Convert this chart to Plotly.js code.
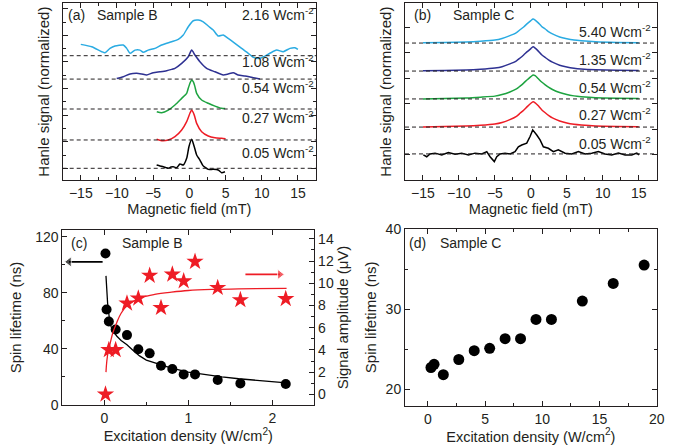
<!DOCTYPE html>
<html><head><meta charset="utf-8">
<script src="https://cdn.plot.ly/plotly-3.0.1.min.js"></script>
<style>html,body{margin:0;padding:0;background:#fff}#chart{width:689px;height:446px}</style>
</head><body><div id="chart"></div>
<script>
// ---------- Panel (a): Sample B Hanle curves (normalized signal, offset per curve) ----------
const aLabels = ['0.05', '0.27', '0.54', '1.08', '2.16'];
const aOffsets = [0, 2.13, 4.46, 6.71, 8.47];
const aX005 = [-4.52,-4.06,-3.60,-3.23,-2.91,-2.54,-2.22,-1.75,-1.30,-0.84,-0.37,-0.06,0.32,0.68,1.01,1.46,1.88,2.15,2.61,3.30,3.99,4.46,4.92];
const aY005 = [0.25,0.18,0.12,0.05,0.0,0.1,0.12,0.05,0.32,0.25,0.75,1.62,2.18,1.62,1.0,0.62,0.2,0.08,-0.08,-0.08,-0.13,-0.33,-0.26];
const aX027 = [-4.52,-3.83,-2.91,-1.99,-1.06,-0.37,0.08,0.32,0.68,1.01,1.70,2.61,3.54,4.46,5.01];
const aY027 = [0.05,-0.05,0.0,0.25,0.75,1.38,2.01,2.25,1.87,1.25,0.62,0.30,0.17,0.13,0.10];
const aX054 = [-4.5,-3.83,-2.91,-1.99,-1.06,-0.37,-0.15,0.15,0.32,0.57,0.77,1.01,1.70,2.61,3.54,4.46,4.95];
const aY054 = [-0.20,-0.28,-0.08,0.30,0.80,1.18,1.56,2.03,2.18,2.03,1.68,1.18,0.68,0.43,0.22,0.05,0.03];
const aX108 = [-10.04,-9.13,-8.20,-7.28,-6.59,-5.90,-4.99,-4.06,-3.14,-2.44,-1.99,-1.06,-0.15,0.32,0.77,1.46,2.39,3.54,4.68,5.37,6.06,6.75,7.68,8.60,9.06,9.75];
const aY108 = [0.04,0.18,0.38,0.43,0.38,0.31,0.48,0.55,0.63,0.73,0.81,1.18,1.68,2.18,1.81,1.31,0.81,0.55,0.31,0.38,0.48,0.31,0.23,0.13,0.08,0.0];
const aX216 = [-15.0,-13.49,-12.11,-11.66,-10.97,-10.28,-9.13,-8.66,-8.20,-7.51,-6.82,-6.37,-5.68,-4.75,-3.83,-2.44,-1.53,-0.84,-0.15,0.54,1.23,1.92,2.61,3.30,3.99,4.68,5.37,6.30,7.22,8.14,8.83,9.75,10.44,11.13,12.06,12.97,13.90,14.59,15.0];
const aY216 = [0.85,0.67,0.30,0.22,0.55,0.73,0.80,0.55,0.18,0.42,0.42,0.25,0.42,0.55,0.80,1.05,1.23,1.55,2.18,2.63,2.68,2.55,2.23,1.93,1.48,1.55,1.30,0.93,0.55,0.18,-0.12,-0.20,-0.03,0.18,0.42,0.30,0.55,0.60,0.48];

// ---------- Panel (b): Sample C Hanle curves ----------
const bLabels = ['0.05', '0.27', '0.54', '1.35', '5.40'];
const bOffsets = [0.04, 1.09, 2.19, 3.28, 4.375];
const bX005 = [-14.95,-14.48,-14.02,-13.32,-12.39,-11.47,-10.54,-9.61,-8.69,-7.76,-6.83,-6.13,-5.67,-5.08,-4.74,-4.28,-3.59,-2.89,-2.20,-1.74,-1.27,-0.57,-0.11,0.26,0.82,1.28,1.74,2.43,3.13,3.82,4.76,5.69,6.61,7.54,8.47,9.39,10.32,11.25,12.17,13.10,14.03,14.73,15.05];
const bY005 = [-0.04,-0.11,0.0,0.03,-0.04,0.05,-0.01,0.03,-0.04,0.03,0.0,0.09,-0.11,-0.30,-0.11,0.0,0.03,0.0,0.09,0.28,0.35,0.42,0.68,0.94,0.74,0.55,0.28,0.22,0.09,0.16,0.03,0.0,0.09,0.0,0.03,0.09,0.0,-0.04,0.03,-0.04,-0.04,0.03,-0.04];
const bXSmooth = [-15,-12,-9,-7,-5,-4,-3,-2,-1.5,-1,-0.5,0,0.3,0.6,1,1.5,2,2.5,3,4,5,6,7,9,12,15];
const bY027 = [0.0,0.02,0.04,0.07,0.12,0.18,0.28,0.42,0.54,0.66,0.80,0.93,0.99,0.95,0.84,0.68,0.56,0.45,0.36,0.24,0.16,0.11,0.08,0.04,0.02,0.01];
const bY054 = [0.0,0.02,0.04,0.07,0.11,0.17,0.26,0.39,0.50,0.62,0.75,0.87,0.94,0.91,0.80,0.66,0.55,0.45,0.37,0.25,0.17,0.12,0.09,0.05,0.03,0.02];
const bY135 = [0.01,0.02,0.04,0.07,0.12,0.17,0.27,0.40,0.51,0.63,0.76,0.88,0.95,0.90,0.79,0.64,0.53,0.43,0.35,0.23,0.16,0.11,0.08,0.05,0.03,0.02];
const bY540 = [0.015,0.025,0.045,0.075,0.12,0.18,0.28,0.41,0.52,0.63,0.76,0.88,0.94,0.90,0.80,0.65,0.55,0.44,0.36,0.24,0.17,0.12,0.09,0.05,0.025,0.015];

// ---------- Panel (c): Sample B lifetime & amplitude ----------
const cX = [0.014,0.027,0.054,0.135,0.27,0.405,0.54,0.675,0.81,0.945,1.08,1.35,1.62,2.16];
const cLifetime = [108,68,59.5,53.8,49.8,39.7,36.8,28,25.6,21.8,21.8,17.8,15.4,15];
const cStarX = [0.014,0.054,0.135,0.27,0.405,0.54,0.675,0.81,0.945,1.08,1.35,1.62,2.16];
const cAmp = [0.0,4.0,4.0,8.2,8.65,10.7,7.8,10.8,10.2,11.95,9.6,8.5,8.6];
const cFitX = [0.02,0.03,0.04,0.06,0.08,0.1,0.15,0.2,0.27,0.35,0.42,0.5,0.6,0.7,0.8,1.0,1.2,1.4,1.6,1.8,2.0,2.17];
const cFitY = [92,80,72,62,56,53,49,46,43,38.5,35,32,30,28,26.3,23.5,21.5,20,18.7,17.6,16.6,15.8];
const cAmpFitX = [0.02,0.03,0.05,0.07,0.1,0.15,0.2,0.27,0.35,0.45,0.6,0.8,1.0,1.3,1.6,2.17];
const cAmpFitY = [2.0,3.0,4.0,4.6,5.5,6.5,7.3,8.0,8.4,8.75,9.0,9.2,9.35,9.45,9.5,9.55];
// direction arrows of panel (c): [start x, tip x, level]
const cLeftArrow = [-0.02, -0.42, 102];
const cRightArrow = [1.68, 2.09, 10.8];

// ---------- Panel (d): Sample C lifetime ----------
const dX = [0.27,0.54,1.35,2.7,4.05,5.4,6.75,8.1,9.45,10.8,13.5,16.2,18.9];
const dLifetime = [22.7,23.1,21.8,23.7,24.8,25.1,26.3,26.3,28.7,28.7,31.0,33.2,35.5];

// ---------- drawing ----------
const W = 689, H = 446;
const PX = v => v / W, PY = v => 1 - v / H;
const FONT = 'Liberation Sans, Arial, sans-serif';
const TXT = '#231F20';
const RED = '#EE1C25';
const curveColors = ['#000000', RED, '#1DA340', '#2E3192', '#2AABE2'];

const aXs = [aX005, aX027, aX054, aX108, aX216];
const aYs = [aY005, aY027, aY054, aY108, aY216];
const bXs = [bX005, bXSmooth, bXSmooth, bXSmooth, bXSmooth];
const bYs = [bY005, bY027, bY054, bY135, bY540];

const traces = [];
aXs.forEach((xs, i) => traces.push({
  x: xs, y: aYs[i].map(v => v + aOffsets[i]), xaxis: 'x', yaxis: 'y',
  type: 'scatter', mode: 'lines', line: {color: curveColors[i], width: 1.5, shape: 'spline', smoothing: 0.6},
  name: aLabels[i] + ' W/cm² (B)'
}));
bXs.forEach((xs, i) => traces.push({
  x: xs, y: bYs[i].map(v => v + bOffsets[i]), xaxis: 'x2', yaxis: 'y2',
  type: 'scatter', mode: 'lines', line: {color: curveColors[i], width: 1.5, shape: i === 0 ? 'linear' : 'spline', smoothing: 0.6},
  name: bLabels[i] + ' W/cm² (C)'
}));
traces.push({x: cFitX, y: cFitY, xaxis: 'x3', yaxis: 'y3', mode: 'lines', line: {color: '#000', width: 1.3}, name: 'lifetime fit'});
traces.push({x: cX, y: cLifetime, xaxis: 'x3', yaxis: 'y3', mode: 'markers',
  marker: {color: '#000', size: 10, symbol: 'circle'}, name: 'Spin lifetime'});
traces.push({x: cStarX, y: cAmp, xaxis: 'x3', yaxis: 'y4', mode: 'markers',
  marker: {color: RED, size: 13, symbol: 'star'}, name: 'Signal amplitude'});
traces.push({x: cAmpFitX, y: cAmpFitY, xaxis: 'x3', yaxis: 'y4', mode: 'lines', line: {color: RED, width: 1.3, shape: 'spline'}, name: 'amplitude fit'});
// arrows as line + triangle head
traces.push({x: [cLeftArrow[0], cLeftArrow[1]], y: [cLeftArrow[2], cLeftArrow[2]], xaxis: 'x3', yaxis: 'y3',
  mode: 'lines+markers', line: {color: '#000', width: 1.6},
  marker: {symbol: ['circle', 'triangle-left'], size: [0, 9], color: '#000'}, name: 'left axis'});
traces.push({x: [cRightArrow[0], cRightArrow[1]], y: [cRightArrow[2], cRightArrow[2]], xaxis: 'x3', yaxis: 'y4',
  mode: 'lines+markers', line: {color: RED, width: 1.6},
  marker: {symbol: ['circle', 'triangle-right'], size: [0, 9], color: RED}, name: 'right axis'});
traces.push({x: dX, y: dLifetime, xaxis: 'x4', yaxis: 'y5', mode: 'markers',
  marker: {color: '#000', size: 11, symbol: 'circle'}, name: 'Spin lifetime C'});

const tickfont = {family: FONT, size: 14, color: TXT};
const titlefont = {family: FONT, size: 15, color: TXT};
const xtitlefont = {family: FONT, size: 14.5, color: TXT};
function ax(o) {
  return Object.assign({
    showline: true, linecolor: '#231F20', linewidth: 1, mirror: 'ticks',
    ticks: 'inside', ticklen: 5, tickwidth: 1, tickcolor: '#231F20',
    showgrid: false, zeroline: false, tickfont: tickfont, fixedrange: true
  }, o);
}
const minorT = d => ({ticks: 'inside', ticklen: 3, tickwidth: 1, tickcolor: '#231F20', dtick: d, showgrid: false});
const yA = [1 - 180 / H, 1 - 3.3 / H];
const layout = {
  width: W, height: H, margin: {l: 0, r: 0, t: 0, b: 0},
  paper_bgcolor: '#fff', plot_bgcolor: 'rgba(0,0,0,0)', showlegend: false,
  font: {family: FONT, color: TXT, size: 14},
  xaxis: ax({domain: [PX(62.7), PX(316)], anchor: 'y', range: [-17.5, 17.5], dtick: 5, tick0: 0, minor: minorT(2.5),
    title: {text: 'Magnetic field (mT)', font: xtitlefont, standoff: 0}}),
  yaxis: ax({domain: yA, anchor: 'x', range: [-0.88, 12.41], dtick: 2, tick0: 0, showticklabels: false, minor: minorT(1),
    title: {text: 'Hanle signal (normalized)', font: titlefont, standoff: 8}}),
  xaxis2: ax({domain: [PX(405), PX(656.7)], anchor: 'y2', range: [-17.5, 17.5], dtick: 5, tick0: 0, minor: minorT(2.5),
    title: {text: 'Magnetic field (mT)', font: xtitlefont, standoff: 0}}),
  yaxis2: ax({domain: yA, anchor: 'x2', range: [-0.98, 5.93], dtick: 1, tick0: 0, showticklabels: false,
    title: {text: 'Hanle signal (normalized)', font: titlefont, standoff: 8}}),
  xaxis3: ax({domain: [PX(62.3), PX(314.3)], anchor: 'y3', range: [-0.5, 2.5], dtick: 1, tick0: 0, minor: minorT(0.5),
    title: {text: 'Excitation density (W/cm<sup>2</sup>)', font: xtitlefont, standoff: 0}}),
  yaxis3: ax({domain: [1 - 405 / H, 1 - 230 / H], anchor: 'x3', range: [0, 124.7], dtick: 40, tick0: 0, mirror: false, minor: minorT(20),
    title: {text: 'Spin lifetime (ns)', font: titlefont, standoff: 9}}),
  yaxis4: ax({overlaying: 'y3', anchor: 'x3', side: 'right', range: [-0.96, 14.8], dtick: 2, tick0: 0, mirror: false, minor: minorT(1),
    title: {text: 'Signal amplitude (μV)', font: titlefont, standoff: 2}}),
  xaxis4: ax({domain: [PX(405), PX(656.7)], anchor: 'y5', range: [-2, 20], dtick: 5, tick0: 0, minor: minorT(2.5),
    title: {text: 'Excitation density (W/cm<sup>2</sup>)', font: xtitlefont, standoff: 0}}),
  yaxis5: ax({domain: [1 - 405.7 / H, 1 - 229 / H], anchor: 'x4', range: [17.93, 40], dtick: 10, tick0: 0, minor: minorT(5),
    title: {text: 'Spin lifetime (ns)', font: titlefont, standoff: 5}}),
  shapes: [], annotations: []
};

// dashed baselines
aOffsets.forEach(o => layout.shapes.push({type: 'line', xref: 'x domain', yref: 'y', x0: 0, x1: 1, y0: o, y1: o,
  line: {color: '#231F20', width: 1, dash: '4px,3px'}}));
bOffsets.forEach(o => layout.shapes.push({type: 'line', xref: 'x2 domain', yref: 'y2', x0: 0, x1: 1, y0: o, y1: o,
  line: {color: '#231F20', width: 1, dash: '4px,3px'}}));

const lab = {family: FONT, size: 14, color: TXT};
function note(text, x, y) {
  layout.annotations.push({text: text, xref: 'paper', yref: 'paper', x: PX(x), y: PY(y),
    xanchor: 'left', yanchor: 'middle', showarrow: false, font: lab});
}
const aLabelY = [153.3, 118.3, 88.3, 61.7, 15];
aLabels.forEach((l, i) => note(l + ' Wcm<sup>-2</sup>', 240, aLabelY[i] - 1));
const bLabelY = [144, 115, 88.3, 60, 31.7];
bLabels.forEach((l, i) => note(l + ' Wcm<sup>-2</sup>', 577, bLabelY[i] - 1));
note('(a)', 66, 15); note('Sample B', 95, 15);
note('(b)', 412, 15); note('Sample C', 451, 15);
note('(c)', 69, 243); note('Sample B', 120, 243);
note('(d)', 407, 243); note('Sample C', 438, 243);

Plotly.newPlot('chart', traces, layout, {staticPlot: true, displayModeBar: false});
</script></body></html>
